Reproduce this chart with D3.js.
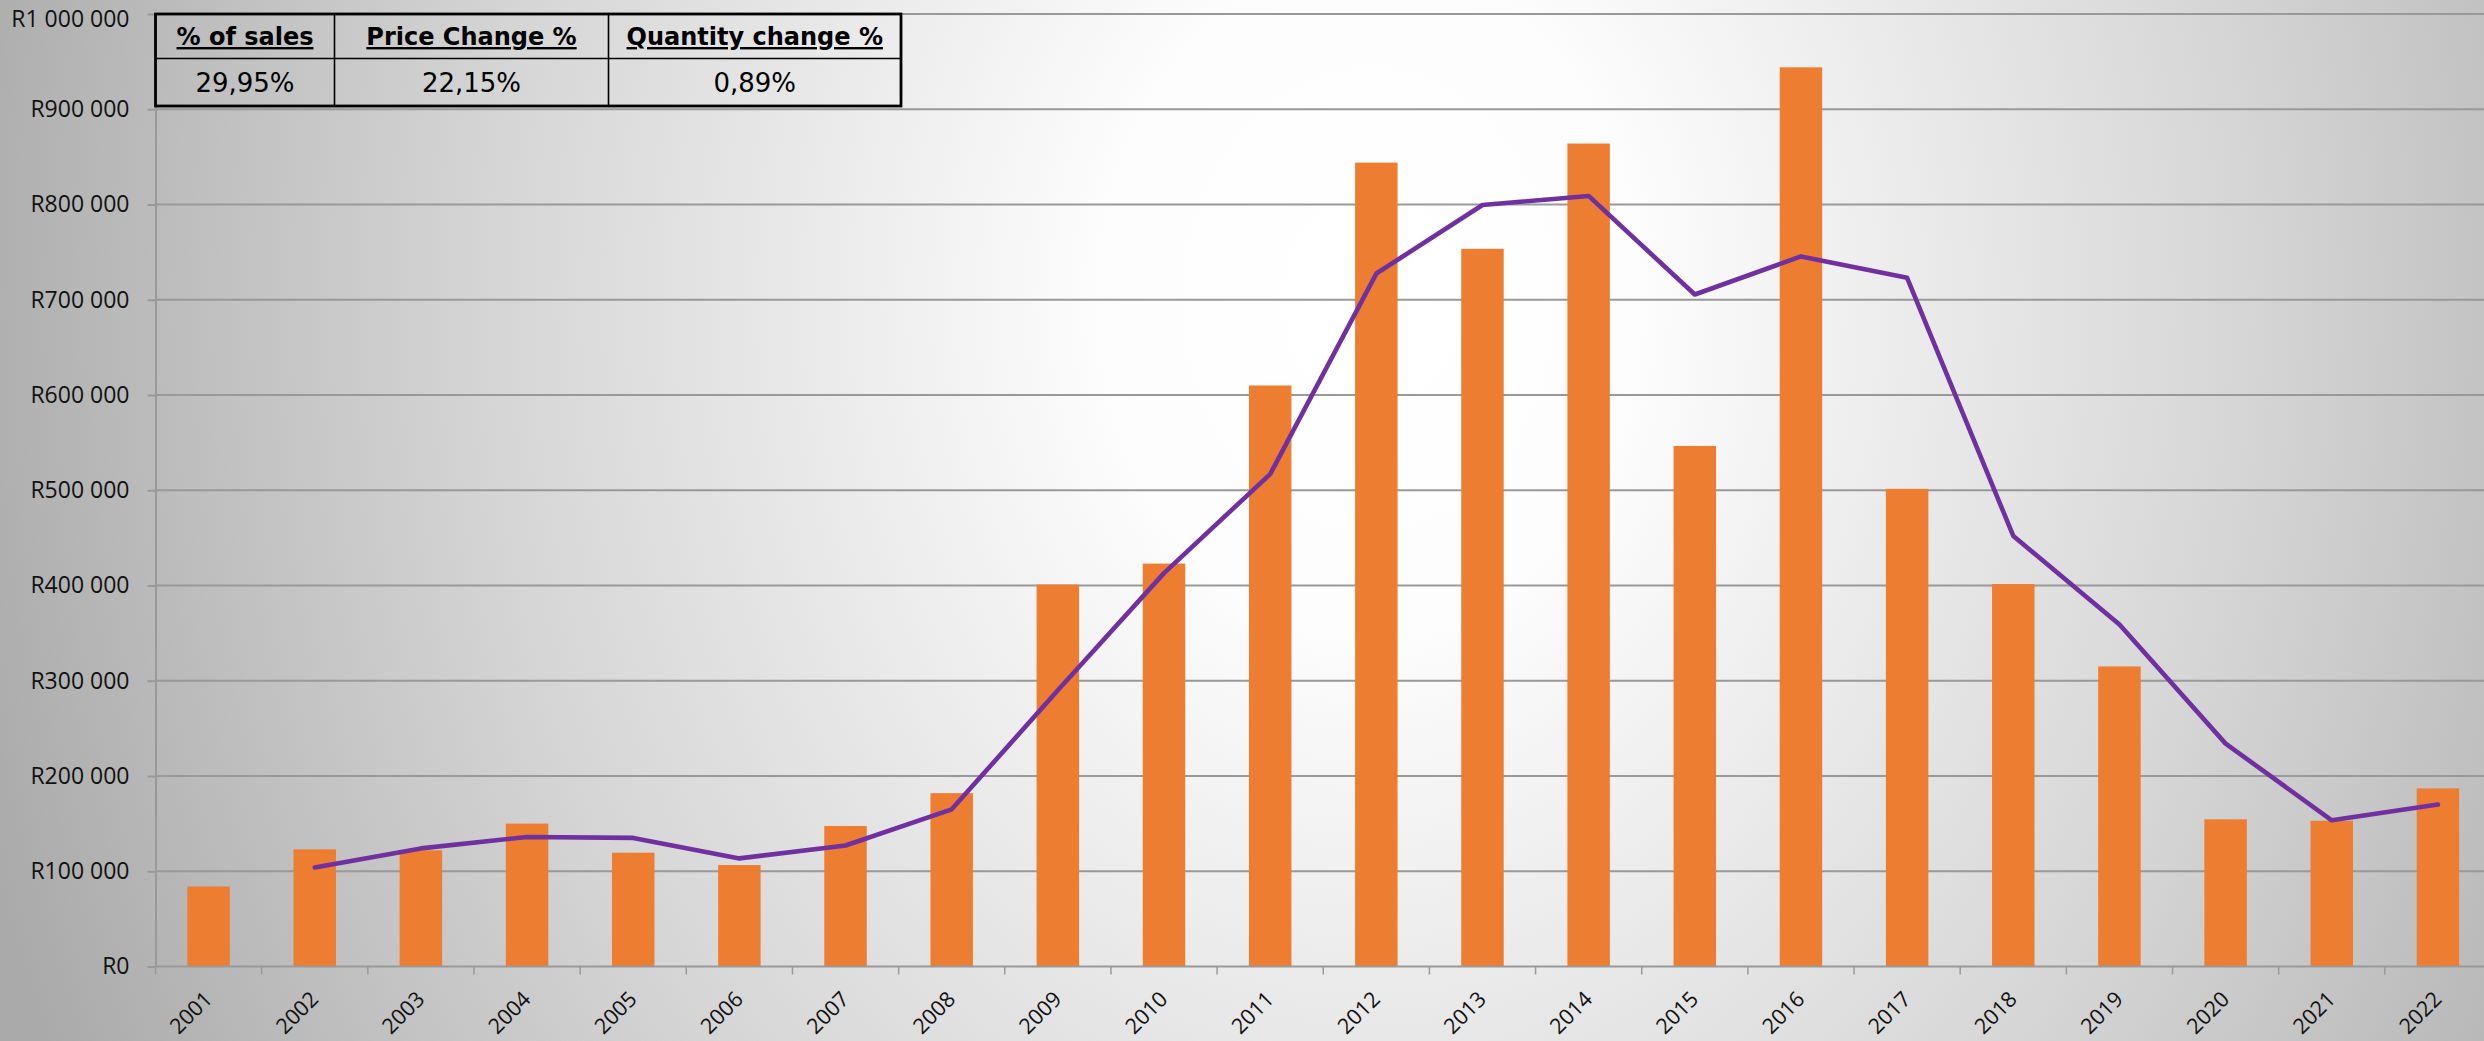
<!DOCTYPE html>
<html>
<head>
<meta charset="utf-8">
<script src="https://cdn.jsdelivr.net/npm/d3@7"></script>
<style>
  html, body { margin: 0; padding: 0; background: #fff; }
  svg { display: block; }
</style>
</head>
<body>
<svg id="chart" width="2484" height="1041"></svg>
<script>
// ---------- data ----------
const years = ["2001","2002","2003","2004","2005","2006","2007","2008","2009","2010","2011",
               "2012","2013","2014","2015","2016","2017","2018","2019","2020","2021","2022"];
const barValues = [84000, 123000, 122000, 150000, 119500, 106500, 147500, 182000, 401000, 423000, 610000,
                   844000, 753500, 864000, 546500, 944000, 501500, 401500, 315000, 154500, 153000, 187000];
const lineValues = [null, 104000, 124000, 136000, 135000, 113500, 127000, 165000, 290000, 413000, 517000,
                    727500, 799500, 809000, 705500, 745500, 723000, 452000, 359000, 234000, 153500, 170000];
const yTicks = [0, 100000, 200000, 300000, 400000, 500000, 600000, 700000, 800000, 900000, 1000000];
const tableHeaders = ["% of sales", "Price Change %", "Quantity change %"];
const tableValues = ["29,95%", "22,15%", "0,89%"];

// ---------- layout ----------
const W = 2484, H = 1041;
const plot = { left: 155.5, right: 2491, top: 14, bottom: 966.5 };

const svg = d3.select("#chart");
const defs = svg.append("defs");
const grad = defs.append("radialGradient")
  .attr("id", "bg").attr("gradientUnits", "userSpaceOnUse")
  .attr("cx", 1370).attr("cy", 300).attr("r", 1450)
  .attr("gradientTransform", "translate(1370,300) scale(1,1.25) translate(-1370,-300)");
grad.append("stop").attr("offset", 0).attr("stop-color", "#ffffff");
grad.append("stop").attr("offset", 0.18).attr("stop-color", "#fdfdfd");
grad.append("stop").attr("offset", 0.6).attr("stop-color", "#d6d6d6");
grad.append("stop").attr("offset", 1).attr("stop-color", "#aaaaaa");

svg.append("rect").attr("width", W).attr("height", H).attr("fill", "url(#bg)");

const x = d3.scaleBand().domain(years).range([plot.left, plot.right])
  .paddingInner(0.6).paddingOuter(0.3);
const y = d3.scaleLinear().domain([0, 1000000]).range([plot.bottom, plot.top]);

const fmt = v => "R" + d3.format(",")(v).replace(/,/g, " ");

// gridlines
svg.append("g").selectAll("line").data(yTicks.slice(1)).join("line")
  .attr("x1", plot.left).attr("x2", W)
  .attr("y1", d => y(d)).attr("y2", d => y(d))
  .attr("stroke", "#999999").attr("stroke-width", 2);

// y axis
const yAxis = svg.append("g").attr("transform", `translate(${plot.left},0)`)
  .call(d3.axisLeft(y).tickValues(yTicks).tickFormat(fmt).tickSizeInner(8).tickSizeOuter(0).tickPadding(18));
yAxis.select(".domain").attr("stroke", "#999999").attr("stroke-width", 2);
yAxis.selectAll(".tick line").attr("stroke", "#999999").attr("stroke-width", 2);
yAxis.selectAll(".tick text").attr("fill", "#111")
  .style("font-family", "'Open Sans', sans-serif").style("font-size", "23px");
yAxis.selectAll(".tick text").filter(d => d === 1000000).attr("dy", "0.55em");

// bars
svg.append("g").selectAll("rect").data(years).join("rect")
  .attr("x", d => x(d)).attr("width", x.bandwidth())
  .attr("y", (d, i) => y(barValues[i]))
  .attr("height", (d, i) => y(0) - y(barValues[i]))
  .attr("fill", "#ED7D31");

// x axis line & ticks (at band boundaries)
const step = x.step();
const x0 = plot.left;
const boundaries = d3.range(years.length + 1).map(i => x0 + i * step);
svg.append("line").attr("x1", plot.left).attr("x2", W)
  .attr("y1", plot.bottom).attr("y2", plot.bottom)
  .attr("stroke", "#999999").attr("stroke-width", 2);
svg.append("g").selectAll("line").data(boundaries).join("line")
  .attr("x1", d => d).attr("x2", d => d)
  .attr("y1", plot.bottom).attr("y2", plot.bottom + 8)
  .attr("stroke", "#999999").attr("stroke-width", 1.5);

// x labels
svg.append("g").selectAll("text").data(years).join("text")
  .attr("transform", d => `translate(${x(d) + x.bandwidth() / 2 + 5},${plot.bottom + 34}) rotate(-45)`)
  .attr("text-anchor", "end")
  .style("font-family", "'Open Sans', sans-serif").style("font-size", "21.5px")
  .attr("fill", "#111")
  .text(d => d);

// line
const line = d3.line()
  .defined(d => d[1] != null)
  .x(d => x(d[0]) + x.bandwidth() / 2)
  .y(d => y(d[1]));
svg.append("path")
  .datum(years.map((yr, i) => [yr, lineValues[i]]))
  .attr("d", line)
  .attr("fill", "none").attr("stroke", "#7030A0").attr("stroke-width", 4.6)
  .attr("stroke-linejoin", "round").attr("stroke-linecap", "round");

// table
const tbl = { colX: [155.5, 334.5, 608.5, 901], rowY: [14, 58.5, 106] };
const tg = svg.append("g");
for (let c = 1; c < 3; c++) {
  tg.append("line").attr("x1", tbl.colX[c]).attr("x2", tbl.colX[c])
    .attr("y1", tbl.rowY[0]).attr("y2", tbl.rowY[2]).attr("stroke", "#000").attr("stroke-width", 1.6);
}
tg.append("line").attr("x1", tbl.colX[0]).attr("x2", tbl.colX[3])
  .attr("y1", tbl.rowY[1]).attr("y2", tbl.rowY[1]).attr("stroke", "#000").attr("stroke-width", 1.6);
tg.append("rect").attr("x", tbl.colX[0]).attr("y", tbl.rowY[0])
  .attr("width", tbl.colX[3] - tbl.colX[0]).attr("height", tbl.rowY[2] - tbl.rowY[0])
  .attr("fill", "none").attr("stroke", "#000").attr("stroke-width", 2.8);

tg.selectAll("text.h").data(tableHeaders).join("text").attr("class", "h")
  .attr("x", (d, i) => (tbl.colX[i] + tbl.colX[i + 1]) / 2)
  .attr("y", 45)
  .attr("text-anchor", "middle")
  .style("font-family", "'DejaVu Sans', sans-serif").style("font-size", "24px")
  .style("font-weight", "bold").style("text-decoration", "underline")
  .attr("fill", "#000")
  .text(d => d);

tg.selectAll("text.v").data(tableValues).join("text").attr("class", "v")
  .attr("x", (d, i) => (tbl.colX[i] + tbl.colX[i + 1]) / 2)
  .attr("y", 92)
  .attr("text-anchor", "middle")
  .style("font-family", "'DejaVu Sans', sans-serif").style("font-size", "26px")
  .attr("fill", "#000")
  .text(d => d);
</script>
</body>
</html>
